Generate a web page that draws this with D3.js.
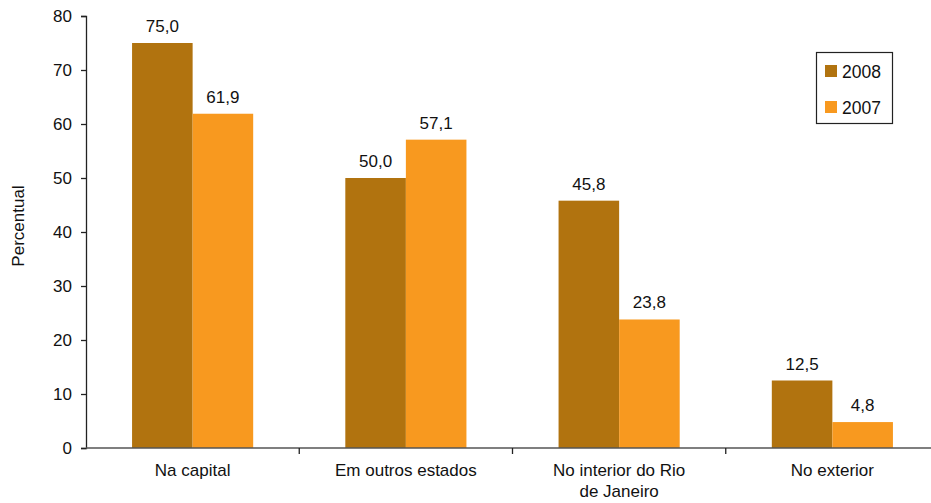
<!DOCTYPE html>
<html><head><meta charset="utf-8">
<script src="https://cdn.jsdelivr.net/npm/d3@7"></script>
<style>body{margin:0;background:#fff}svg{display:block;font-family:"Liberation Sans",Arial,sans-serif}</style>
</head><body>
<svg id="c" width="931" height="503"></svg>
<script>
const categories = [["Na capital"], ["Em outros estados"], ["No interior do Rio", "de Janeiro"], ["No exterior"]];
const series = ["2008", "2007"];
const values2008 = [75.0, 50.0, 45.8, 12.5];
const values2007 = [61.9, 57.1, 23.8, 4.8];
const yTicks = [0, 10, 20, 30, 40, 50, 60, 70, 80];
const colors = ["#B1730F", "#F8991F"];

(function () {
const svg = d3.select("#c");
const mLeft = 86, mRight = 939, mTop = 16, mBottom = 448;
const fs = 17;
const y = d3.scaleLinear().domain([0, 80]).range([mBottom, mTop]);
const x0 = d3.scaleBand().domain(d3.range(categories.length)).range([mLeft, mRight]).paddingInner(0.432).paddingOuter(0.216);
const x1 = d3.scaleBand().domain(series).range([0, x0.bandwidth()]);
const fmt = v => d3.format(".1f")(v).replace(".", ",");
const data = [values2008, values2007];

// bars
categories.forEach((c, i) => {
  series.forEach((s, j) => {
    const v = data[j][i];
    svg.append("rect").attr("x", x0(i) + x1(s)).attr("y", y(v))
      .attr("width", x1.bandwidth()).attr("height", y(0) - y(v)).attr("fill", colors[j]);
    svg.append("text").attr("x", x0(i) + x1(s) + x1.bandwidth() / 2).attr("y", y(v) - 11)
      .attr("text-anchor", "middle").attr("font-size", fs).attr("fill", "#111").text(fmt(v));
  });
});

// y axis
const yAxis = d3.axisLeft(y).tickValues(yTicks).tickSize(5).tickPadding(9).tickFormat(d3.format("d"));
const gy = svg.append("g").attr("transform", `translate(${mLeft},0)`).call(yAxis);
gy.select(".domain").attr("stroke", "#222").attr("stroke-width", 1.3);
gy.selectAll(".tick line").attr("stroke", "#222").attr("stroke-width", 1.3);
gy.selectAll(".tick text").attr("font-size", fs).attr("fill", "#111").attr("font-family", "Liberation Sans, Arial, sans-serif");

// x axis
const step = x0.step();
const sepScale = d3.scaleLinear().domain([0, categories.length]).range([mLeft, mLeft + step * categories.length]);
svg.append("line").attr("x1", mLeft).attr("x2", 931).attr("y1", mBottom).attr("y2", mBottom)
  .attr("stroke", "#555").attr("stroke-width", 1.5);
d3.range(1, categories.length).forEach(k => {
  svg.append("line").attr("x1", sepScale(k)).attr("x2", sepScale(k)).attr("y1", mBottom).attr("y2", mBottom + 6)
    .attr("stroke", "#222").attr("stroke-width", 1.3);
});
categories.forEach((c, i) => {
  const t = svg.append("text").attr("text-anchor", "middle").attr("font-size", fs).attr("fill", "#111");
  c.forEach((line, k) => {
    t.append("tspan").attr("x", x0(i) + x0.bandwidth() / 2).attr("y", 476 + k * 21).text(line);
  });
});

// y label
svg.append("text").attr("transform", "translate(23.5,226) rotate(-90)").attr("text-anchor", "middle")
  .attr("font-size", fs).attr("fill", "#111").text("Percentual");

// legend
svg.append("rect").attr("x", 816.5).attr("y", 52.5).attr("width", 76).attr("height", 71)
  .attr("fill", "#fff").attr("stroke", "#222").attr("stroke-width", 1.2);
series.forEach((s, j) => {
  svg.append("rect").attr("x", 825).attr("y", 65 + j * 36).attr("width", 12).attr("height", 12).attr("fill", colors[j]);
  svg.append("text").attr("x", 842).attr("y", 78 + j * 36).attr("font-size", 17.5).attr("fill", "#111").text(s);
});
})();
</script>
</body></html>
